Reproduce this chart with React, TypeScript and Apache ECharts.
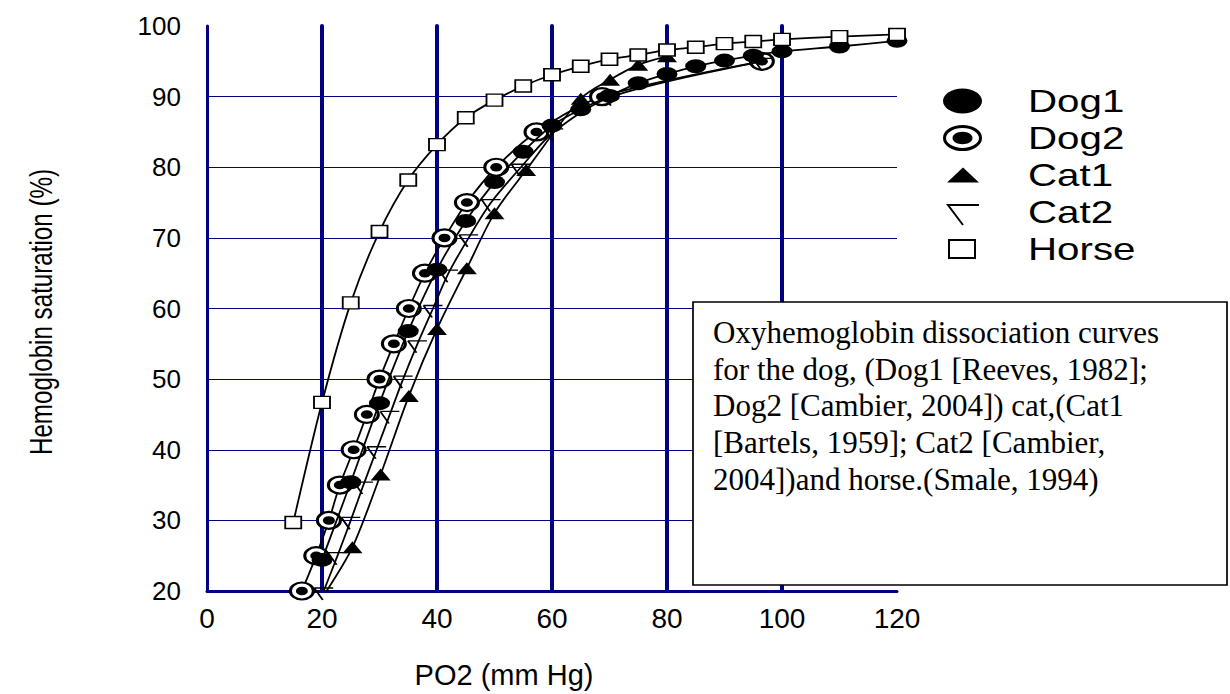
import React, { useEffect, useRef } from "react";
import * as echarts from "echarts";

// ---- data ----
const seriesNames = ["Dog1", "Dog2", "Cat1", "Cat2", "Horse"];

const dog1PO2 = [20, 25, 30, 35, 40, 45, 50, 55, 60, 65, 70, 75, 80, 85, 90, 95, 100, 110, 120];
const dog1Sat = [24.4, 35.4, 46.6, 56.8, 65.5, 72.4, 77.9, 82.2, 85.9, 88.2, 90.1, 91.9, 93.2, 94.3, 95.1, 95.8, 96.4, 97.1, 97.9];

const dog2PO2 = [16.5, 19.0, 21.2, 23.1, 25.5, 27.8, 30.0, 32.5, 35.1, 37.9, 41.3, 45.2, 50.3, 57.3, 68.7, 96.5];
const dog2Sat = [20, 25, 30, 35, 40, 45, 50, 55, 60, 65, 70, 75, 80, 85, 90, 95];

// Cat1 curve meets the x axis (no marker there) before the first triangle
const cat1AxisPoint = [20.8, 20];
const cat1PO2 = [25.3, 30.2, 35.1, 40, 45.2, 50, 55.5, 65, 70.1, 75, 80];
const cat1Sat = [26.2, 36.5, 47.6, 57.1, 65.7, 73.5, 79.6, 89.7, 92.4, 94.5, 95.7];

const cat2PO2 = [20.3, 22.7, 25.0, 27.2, 29.5, 31.8, 34.1, 36.6, 39.3, 42.0, 45.5, 49.4, 54.6, 60.3, 70.4, 96.6];
const cat2Sat = [20, 25, 30, 35, 40, 45, 50, 55, 60, 65, 70, 75, 80, 85, 90, 95];

const horsePO2 = [15, 20, 25, 30, 35, 40, 45, 50, 55, 60, 65, 70, 75, 80, 85, 90, 95, 100, 110, 120];
const horseSat = [29.7, 46.7, 60.8, 70.9, 78.2, 83.2, 87.0, 89.5, 91.5, 93.1, 94.3, 95.3, 95.9, 96.6, 97.0, 97.5, 97.8, 98.1, 98.5, 98.8];

const xTicks = { min: 0, max: 120, interval: 20 };
const yTicks = { min: 20, max: 100, interval: 10 };

const xTitle = "PO2 (mm Hg)";
const yTitle = "Hemoglobin saturation (%)";
const noteLines = [
  "Oxyhemoglobin dissociation curves",
  "for the dog, (Dog1 [Reeves, 1982];",
  "Dog2 [Cambier, 2004]) cat,(Cat1",
  "[Bartels, 1959]; Cat2 [Cambier,",
  "2004])and horse.(Smale, 1994)",
];

// ---- helpers ----
const zip = (xs: number[], ys: number[]) => xs.map((x, i) => [x, ys[i]]);

const NAVY = "#000080";
const SANS = "Liberation Sans, Arial, sans-serif";
const SERIF = "Liberation Serif, Times New Roman, serif";
const ELLIPSE = "path://M0,50A50,50,0,1,1,100,50A50,50,0,1,1,0,50Z";
const HALF_TRI = "path://M0,0L100,0M0,0L45,100";

const lineBase = {
  type: "line",
  smooth: 0.3,
  showSymbol: true,
  symbolKeepAspect: false,
  z: 3,
  lineStyle: { color: "#000", width: 1.8 },
  emphasis: { disabled: true },
};

export default function App() {
  const ref = useRef<HTMLDivElement>(null);

  useEffect(() => {
    if (!ref.current) return;
    const chart = echarts.init(ref.current, undefined, { renderer: "svg" });

    const legendY = [101, 138, 175, 212, 249];

    const option: any = {
      animation: false,
      backgroundColor: "#fff",
      grid: { left: 207, right: 333, top: 26, bottom: 101 },
      xAxis: {
        type: "value",
        min: xTicks.min,
        max: xTicks.max,
        interval: xTicks.interval,
        name: xTitle,
        nameLocation: "middle",
        nameGap: 69,
        nameTextStyle: {
          fontSize: 29,
          fontFamily: SANS,
          color: "#000",
          padding: [0, 96, 0, 0],
        },
        axisLine: { show: true, lineStyle: { color: NAVY, width: 3 } },
        axisTick: { show: false },
        axisLabel: { fontSize: 28, fontFamily: SANS, color: "#000", margin: 13 },
        splitLine: {
          show: true,
          showMinLine: false,
          showMaxLine: false,
          lineStyle: { color: NAVY, width: 4, cap: "round" },
        },
      },
      yAxis: {
        type: "value",
        min: yTicks.min,
        max: yTicks.max,
        interval: yTicks.interval,
        axisLine: { show: true, lineStyle: { color: NAVY, width: 3 } },
        axisTick: { show: false },
        axisLabel: { fontSize: 26, fontFamily: SANS, color: "#000", margin: 26 },
        splitLine: {
          show: true,
          showMinLine: false,
          showMaxLine: false,
          lineStyle: { color: NAVY, width: 1 },
        },
      },
      series: [
        {
          ...lineBase,
          z: 2,
          name: seriesNames[1],
          data: zip(dog2PO2, dog2Sat),
          symbol: ELLIPSE,
          symbolSize: [23, 17],
          itemStyle: { color: "#fff", borderColor: "#000", borderWidth: 2.6 },
        },
        {
          type: "scatter",
          z: 3,
          name: seriesNames[1] + " ",
          data: zip(dog2PO2, dog2Sat),
          symbol: ELLIPSE,
          symbolKeepAspect: false,
          symbolSize: [12, 8.5],
          itemStyle: { color: "#000", opacity: 1 },
          emphasis: { disabled: true },
        },
        {
          ...lineBase,
          name: seriesNames[0],
          data: zip(dog1PO2, dog1Sat),
          symbol: ELLIPSE,
          symbolSize: [21, 14],
          itemStyle: { color: "#000" },
        },
        {
          ...lineBase,
          name: seriesNames[3],
          data: zip(cat2PO2, cat2Sat),
          symbol: HALF_TRI,
          symbolSize: [19, 12],
          symbolOffset: [0, 3],
          itemStyle: { color: "#000", borderColor: "#000", borderWidth: 1.6 },
        },
        {
          ...lineBase,
          name: seriesNames[2],
          data: [{ value: cat1AxisPoint, symbol: "none" }, ...zip(cat1PO2, cat1Sat)],
          symbol: "triangle",
          symbolSize: [20, 12],
          itemStyle: { color: "#000" },
        },
        {
          ...lineBase,
          name: seriesNames[4],
          data: zip(horsePO2, horseSat),
          symbol: "rect",
          symbolSize: [16, 12],
          itemStyle: { color: "#fff", borderColor: "#000", borderWidth: 1.6 },
        },
      ],
      graphic: [
        // y-axis title (condensed, rotated)
        {
          type: "text",
          z: 100,
          x: 41,
          y: 312,
          rotation: Math.PI / 2,
          scaleX: 0.78,
          style: { text: yTitle, fontSize: 31, fontFamily: SANS, fill: "#000", align: "center", verticalAlign: "middle" },
        },
        // legend markers
        { type: "ellipse", z: 100, shape: { cx: 962.5, cy: legendY[0], rx: 19.5, ry: 12.5 }, style: { fill: "#000" } },
        { type: "ellipse", z: 100, shape: { cx: 962.5, cy: legendY[1], rx: 18, ry: 11.5 }, style: { fill: "#fff", stroke: "#000", lineWidth: 3 } },
        { type: "ellipse", z: 101, shape: { cx: 962.5, cy: legendY[1], rx: 10, ry: 6.2 }, style: { fill: "#000" } },
        { type: "polygon", z: 100, shape: { points: [[947, legendY[2] + 7.5], [979, legendY[2] + 7.5], [963, legendY[2] - 7.5]] }, style: { fill: "#000" } },
        { type: "polyline", z: 100, shape: { points: [[979, legendY[3] - 7], [948, legendY[3] - 7], [963, legendY[3] + 13]] }, style: { stroke: "#000", lineWidth: 2, fill: null } },
        { type: "rect", z: 100, shape: { x: 949, y: legendY[4] - 9, width: 26, height: 18 }, style: { fill: "#fff", stroke: "#000", lineWidth: 2 } },
        // legend texts
        ...seriesNames.map((n, i) => ({
          type: "text",
          z: 100,
          x: 1028,
          y: legendY[i],
          scaleX: 1.3,
          style: { text: n, fontSize: 31, fontFamily: SANS, fill: "#000", verticalAlign: "middle", align: "left" },
        })),
        // note box
        {
          type: "rect",
          z: 100,
          shape: { x: 693, y: 302, width: 534, height: 283 },
          style: { fill: "#fff", stroke: "#000", lineWidth: 1.7 },
        },
        {
          type: "text",
          z: 101,
          x: 713,
          y: 314,
          style: {
            text: noteLines.join("\n"),
            fontSize: 31,
            lineHeight: 36.67,
            fontFamily: SERIF,
            fill: "#000",
            align: "left",
            verticalAlign: "top",
          },
        },
      ],
    };

    chart.setOption(option);
    return () => chart.dispose();
  }, []);

  return (
    <div
      ref={ref}
      style={{ position: "fixed", left: 0, top: 0, width: 1230, height: 694, background: "#fff" }}
    />
  );
}
